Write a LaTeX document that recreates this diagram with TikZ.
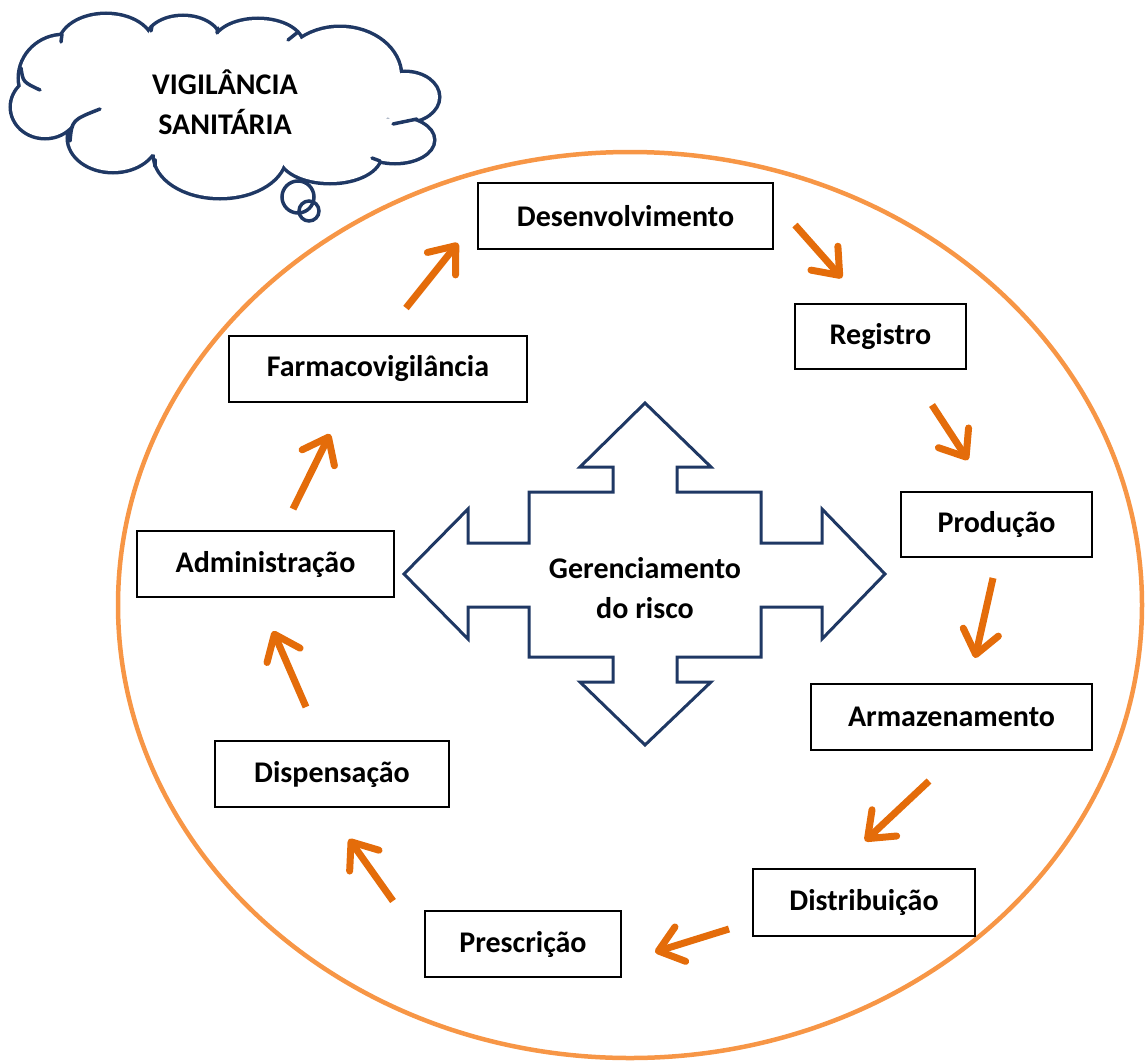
\documentclass[tikz,border=0pt]{standalone}
\usepackage{fontspec}
\setmainfont{Carlito}
\usetikzlibrary{arrows.meta}
\definecolor{navy}{RGB}{31,56,100}
\definecolor{ringor}{RGB}{247,150,70}
\definecolor{arrowor}{RGB}{228,108,10}
\tikzset{
  stagebox/.style={draw=black, line width=1.4pt, fill=white, inner sep=0pt,
    font=\fontsize{30}{34}\selectfont\bfseries},
  flow/.style={draw=arrowor, line width=7pt,
    -{Straight Barb[length=23pt,width=36pt,round]}},
  cloudline/.style={draw=navy, line width=7pt},
  hook/.style={draw=navy, line width=3.5pt, line cap=round},
}
\begin{document}
\begin{tikzpicture}[x=1pt,y=-1pt]
\useasboundingbox (0,0) rectangle (1148,1063);

% outer ring
\draw[ringor, line width=4.5pt] (630,605) ellipse[x radius=512, y radius=453];

% thought cloud: stroke every lobe, then blank the inside
\begin{scope}
  \foreach \c/\rx/\ry in {(45,107)/33/30, (64,78)/44/42, (106,45)/46/30,
      (183,42)/37/25, (258,45)/44/25, (340,76)/60/48, (405,97)/33/24,
      (395,140)/38/22, (330,155)/50/27, (220,155)/65/42, (113,138)/44/33}
    \draw[cloudline] \c ellipse[x radius=\rx, y radius=\ry];
  \foreach \c/\rx/\ry in {(45,107)/33/30, (64,78)/44/42, (106,45)/46/30,
      (183,42)/37/25, (258,45)/44/25, (340,76)/60/48, (405,97)/33/24,
      (395,140)/38/22, (330,155)/50/27, (220,155)/65/42, (113,138)/44/33,
      (225,100)/170/60}
    \fill[white] \c ellipse[x radius=\rx, y radius=\ry];
  % inner creases of the lobes
  \draw[hook] (21,68) .. controls (23,82) .. (40,90);
  \draw[hook] (70,141) .. controls (72,120) .. (100,109);
  \draw[hook] (298,32) -- (288,40);
  \draw[hook] (417,119) .. controls (405,122) .. (393,124);
  \draw[hook] (62,34) -- (61,42);
  \draw[hook] (152,26) -- (151,31);
  \draw[hook] (218,28) -- (217,33);
  \draw[hook] (155,160) -- (155,166);
  \draw[hook] (380,161) -- (372,158);
\end{scope}
\node[font=\fontsize{30}{40}\selectfont\bfseries, align=center] (vig) at (225,102)
  {VIGILÂNCIA\\SANITÁRIA};
% trailing bubbles
\draw[navy, line width=3.5pt] (298,197) circle[radius=16];
\draw[navy, line width=3.5pt] (309,211) circle[radius=10];

% stages
\node[stagebox, minimum width=295pt, minimum height=66pt] (dev) at (625.5,216) {Desenvolvimento};
\node[stagebox, minimum width=171pt, minimum height=65pt] (reg) at (880.5,336.5) {Registro};
\node[stagebox, minimum width=191pt, minimum height=65pt] (prod) at (996.5,524.5) {Produção};
\node[stagebox, minimum width=281pt, minimum height=66pt] (arm) at (951.5,717) {Armazenamento};
\node[stagebox, minimum width=222pt, minimum height=67pt] (dist) at (864,902.5) {Distribuição};
\node[stagebox, minimum width=196pt, minimum height=66pt] (presc) at (523,944) {Prescrição};
\node[stagebox, minimum width=234pt, minimum height=66pt] (disp) at (332,774) {Dispensação};
\node[stagebox, minimum width=257pt, minimum height=66pt] (adm) at (265.5,564) {Administração};
\node[stagebox, minimum width=298pt, minimum height=66pt] (farm) at (378,369) {Farmacovigilância};

% arrow ends between consecutive stages
\coordinate (f1) at (406,308);  \coordinate (t1) at (458,243);
\coordinate (f2) at (795,225);  \coordinate (t2) at (842,278);
\coordinate (f3) at (932,405);  \coordinate (t3) at (968,460);
\coordinate (f4) at (993,578);  \coordinate (t4) at (975,658);
\coordinate (f5) at (929,781);  \coordinate (t5) at (865,841);
\coordinate (f6) at (729,929);  \coordinate (t6) at (655,952);
\coordinate (f7) at (393,901);  \coordinate (t7) at (349,839);
\coordinate (f8) at (306,707);  \coordinate (t8) at (273,631);
\coordinate (f9) at (293,509);  \coordinate (t9) at (330,434);
\foreach \i in {1,...,9} \draw[flow] (f\i) -- (t\i);

% central four-way arrow
\draw[navy, line width=3pt, line join=miter] (645,403) -- (711,467) -- (677,467) -- (677,492)
  -- (761,492) -- (761,543) -- (822,543) -- (822,509) -- (885,574) -- (822,639)
  -- (822,607) -- (761,607) -- (761,657) -- (677,657) -- (677,682) -- (711,682)
  -- (645,745) -- (580,682) -- (613,682) -- (613,657) -- (529,657) -- (529,607)
  -- (468,607) -- (468,639) -- (404,574) -- (468,509) -- (468,543) -- (529,543)
  -- (529,492) -- (613,492) -- (613,467) -- (580,467) -- cycle;
\node[font=\fontsize{30}{40}\selectfont\bfseries, align=center] (risk) at (645,588)
  {Gerenciamento\\do risco};
\end{tikzpicture}
\end{document}
